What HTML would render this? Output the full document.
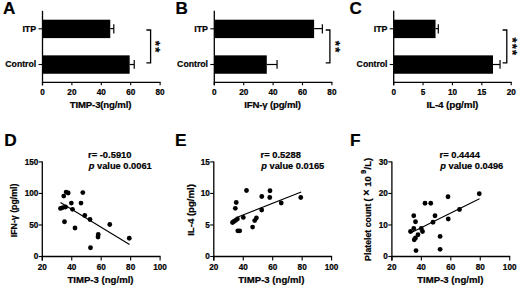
<!DOCTYPE html>
<html><head><meta charset="utf-8"><style>
html,body{margin:0;padding:0;background:#fff;}
svg{display:block;font-family:"Liberation Sans", sans-serif;}
text{stroke:#000;stroke-width:0.2px;}
</style></head><body>
<svg width="520" height="288" viewBox="0 0 520 288" font-family='"Liberation Sans", sans-serif' fill="#000">
<rect width="520" height="288" fill="#fff"/>
<text x="3" y="14.0" font-size="17.1" text-anchor="start" font-weight="bold" >A</text>
<rect x="42.5" y="19.7" width="67.767" height="18.4" fill="#000"/>
<rect x="42.5" y="55.35" width="87.17099999999999" height="18.4" fill="#000"/>
<line x1="110.267" y1="28.6" x2="113.795" y2="28.6" stroke="#000" stroke-width="1.2"/>
<line x1="113.795" y1="24.2" x2="113.795" y2="33.4" stroke="#000" stroke-width="1.2"/>
<line x1="129.671" y1="64.5" x2="134.228" y2="64.5" stroke="#000" stroke-width="1.2"/>
<line x1="134.228" y1="60.1" x2="134.228" y2="68.8" stroke="#000" stroke-width="1.2"/>
<line x1="42.5" y1="10.8" x2="42.5" y2="85.3" stroke="#000" stroke-width="1.3"/>
<line x1="42.0" y1="82.3" x2="160.6" y2="82.3" stroke="#000" stroke-width="1.3"/>
<line x1="42.5" y1="82.3" x2="42.5" y2="85.3" stroke="#000" stroke-width="1.1"/>
<text x="42.5" y="95.1" font-size="8.2" text-anchor="middle" font-weight="bold" >0</text>
<line x1="71.9" y1="82.3" x2="71.9" y2="85.3" stroke="#000" stroke-width="1.1"/>
<text x="71.9" y="95.1" font-size="8.2" text-anchor="middle" font-weight="bold" >20</text>
<line x1="101.3" y1="82.3" x2="101.3" y2="85.3" stroke="#000" stroke-width="1.1"/>
<text x="101.3" y="95.1" font-size="8.2" text-anchor="middle" font-weight="bold" >40</text>
<line x1="130.7" y1="82.3" x2="130.7" y2="85.3" stroke="#000" stroke-width="1.1"/>
<text x="130.7" y="95.1" font-size="8.2" text-anchor="middle" font-weight="bold" >60</text>
<line x1="160.1" y1="82.3" x2="160.1" y2="85.3" stroke="#000" stroke-width="1.1"/>
<text x="160.1" y="95.1" font-size="8.2" text-anchor="middle" font-weight="bold" >80</text>
<line x1="38.5" y1="28.8" x2="42.5" y2="28.8" stroke="#000" stroke-width="1.1"/>
<line x1="38.5" y1="64.5" x2="42.5" y2="64.5" stroke="#000" stroke-width="1.1"/>
<text x="36.2" y="31.6" font-size="8.9" text-anchor="end" font-weight="bold" >ITP</text>
<text x="36.2" y="66.9" font-size="8.7" text-anchor="end" font-weight="bold" >Control</text>
<text x="100.5" y="108.2" font-size="9.6" text-anchor="middle" font-weight="bold" letter-spacing="-0.15">TIMP-3(ng/ml)</text>
<path d="M146.4,30 H150.6 V62.8 H146.4" fill="none" stroke="#000" stroke-width="1.3"/>
<text x="0" y="0" font-size="13" font-weight="bold" text-anchor="middle" transform="translate(158.2,43.3) rotate(90)" dy="0.55em">*</text>
<text x="0" y="0" font-size="13" font-weight="bold" text-anchor="middle" transform="translate(158.2,49.9) rotate(90)" dy="0.55em">*</text>
<text x="175.5" y="14.0" font-size="17.1" text-anchor="start" font-weight="bold" >B</text>
<rect x="214.3" y="19.7" width="99.813" height="18.4" fill="#000"/>
<rect x="214.3" y="55.35" width="52.479000000000006" height="18.4" fill="#000"/>
<line x1="314.113" y1="28.6" x2="322.345" y2="28.6" stroke="#000" stroke-width="1.2"/>
<line x1="322.345" y1="24.2" x2="322.345" y2="33.4" stroke="#000" stroke-width="1.2"/>
<line x1="266.779" y1="64.5" x2="277.069" y2="64.5" stroke="#000" stroke-width="1.2"/>
<line x1="277.069" y1="60.1" x2="277.069" y2="68.8" stroke="#000" stroke-width="1.2"/>
<line x1="214.3" y1="10.8" x2="214.3" y2="85.3" stroke="#000" stroke-width="1.3"/>
<line x1="213.8" y1="82.3" x2="332.4" y2="82.3" stroke="#000" stroke-width="1.3"/>
<line x1="214.3" y1="82.3" x2="214.3" y2="85.3" stroke="#000" stroke-width="1.1"/>
<text x="214.3" y="95.1" font-size="8.2" text-anchor="middle" font-weight="bold" >0</text>
<line x1="243.70000000000002" y1="82.3" x2="243.70000000000002" y2="85.3" stroke="#000" stroke-width="1.1"/>
<text x="243.7" y="95.1" font-size="8.2" text-anchor="middle" font-weight="bold" >20</text>
<line x1="273.1" y1="82.3" x2="273.1" y2="85.3" stroke="#000" stroke-width="1.1"/>
<text x="273.1" y="95.1" font-size="8.2" text-anchor="middle" font-weight="bold" >40</text>
<line x1="302.5" y1="82.3" x2="302.5" y2="85.3" stroke="#000" stroke-width="1.1"/>
<text x="302.5" y="95.1" font-size="8.2" text-anchor="middle" font-weight="bold" >60</text>
<line x1="331.9" y1="82.3" x2="331.9" y2="85.3" stroke="#000" stroke-width="1.1"/>
<text x="331.9" y="95.1" font-size="8.2" text-anchor="middle" font-weight="bold" >80</text>
<line x1="210.3" y1="28.8" x2="214.3" y2="28.8" stroke="#000" stroke-width="1.1"/>
<line x1="210.3" y1="64.5" x2="214.3" y2="64.5" stroke="#000" stroke-width="1.1"/>
<text x="208" y="31.6" font-size="8.9" text-anchor="end" font-weight="bold" >ITP</text>
<text x="208" y="66.9" font-size="8.7" text-anchor="end" font-weight="bold" >Control</text>
<text x="272.5" y="108.2" font-size="9.6" text-anchor="middle" font-weight="bold" letter-spacing="-0.15">IFN-γ (pg/ml)</text>
<path d="M325.7,30 H329.9 V62.8 H325.7" fill="none" stroke="#000" stroke-width="1.3"/>
<text x="0" y="0" font-size="13" font-weight="bold" text-anchor="middle" transform="translate(337.7,43.3) rotate(90)" dy="0.55em">*</text>
<text x="0" y="0" font-size="13" font-weight="bold" text-anchor="middle" transform="translate(337.7,49.9) rotate(90)" dy="0.55em">*</text>
<text x="349.5" y="14.0" font-size="17.1" text-anchor="start" font-weight="bold" >C</text>
<rect x="393.7" y="19.7" width="41.83" height="18.4" fill="#000"/>
<rect x="393.7" y="55.35" width="99.2875" height="18.4" fill="#000"/>
<line x1="435.53" y1="28.6" x2="438.29125" y2="28.6" stroke="#000" stroke-width="1.2"/>
<line x1="438.29125" y1="24.2" x2="438.29125" y2="33.4" stroke="#000" stroke-width="1.2"/>
<line x1="492.98749999999995" y1="64.5" x2="500.03749999999997" y2="64.5" stroke="#000" stroke-width="1.2"/>
<line x1="500.03749999999997" y1="60.1" x2="500.03749999999997" y2="68.8" stroke="#000" stroke-width="1.2"/>
<line x1="393.7" y1="10.8" x2="393.7" y2="85.3" stroke="#000" stroke-width="1.3"/>
<line x1="393.2" y1="82.3" x2="511.7" y2="82.3" stroke="#000" stroke-width="1.3"/>
<line x1="393.7" y1="82.3" x2="393.7" y2="85.3" stroke="#000" stroke-width="1.1"/>
<text x="393.7" y="95.1" font-size="8.2" text-anchor="middle" font-weight="bold" >0</text>
<line x1="423.075" y1="82.3" x2="423.075" y2="85.3" stroke="#000" stroke-width="1.1"/>
<text x="423.07" y="95.1" font-size="8.2" text-anchor="middle" font-weight="bold" >5</text>
<line x1="452.45" y1="82.3" x2="452.45" y2="85.3" stroke="#000" stroke-width="1.1"/>
<text x="452.45" y="95.1" font-size="8.2" text-anchor="middle" font-weight="bold" >10</text>
<line x1="481.825" y1="82.3" x2="481.825" y2="85.3" stroke="#000" stroke-width="1.1"/>
<text x="481.82" y="95.1" font-size="8.2" text-anchor="middle" font-weight="bold" >15</text>
<line x1="511.2" y1="82.3" x2="511.2" y2="85.3" stroke="#000" stroke-width="1.1"/>
<text x="511.2" y="95.1" font-size="8.2" text-anchor="middle" font-weight="bold" >20</text>
<line x1="389.7" y1="28.8" x2="393.7" y2="28.8" stroke="#000" stroke-width="1.1"/>
<line x1="389.7" y1="64.5" x2="393.7" y2="64.5" stroke="#000" stroke-width="1.1"/>
<text x="387.5" y="31.6" font-size="8.9" text-anchor="end" font-weight="bold" >ITP</text>
<text x="387.5" y="66.9" font-size="8.7" text-anchor="end" font-weight="bold" >Control</text>
<text x="452.3" y="108.2" font-size="9.95" text-anchor="middle" font-weight="bold" letter-spacing="-0.15">IL-4 (pg/ml)</text>
<path d="M502.6,30 H506.8 V62.8 H502.6" fill="none" stroke="#000" stroke-width="1.3"/>
<text x="0" y="0" font-size="13" font-weight="bold" text-anchor="middle" transform="translate(514.9,40.1) rotate(90)" dy="0.55em">*</text>
<text x="0" y="0" font-size="13" font-weight="bold" text-anchor="middle" transform="translate(514.9,46.4) rotate(90)" dy="0.55em">*</text>
<text x="0" y="0" font-size="13" font-weight="bold" text-anchor="middle" transform="translate(514.9,52.6) rotate(90)" dy="0.55em">*</text>
<text x="4.3" y="145.7" font-size="17.3" text-anchor="start" font-weight="bold" >D</text>
<line x1="42.3" y1="161.4" x2="42.3" y2="260.5" stroke="#000" stroke-width="1.3"/>
<line x1="41.8" y1="256.5" x2="160.6" y2="256.5" stroke="#000" stroke-width="1.3"/>
<line x1="42.3" y1="256.5" x2="42.3" y2="260.5" stroke="#000" stroke-width="1.1"/>
<text x="42.3" y="269.7" font-size="8.2" text-anchor="middle" font-weight="bold" >20</text>
<line x1="71.75" y1="256.5" x2="71.75" y2="260.5" stroke="#000" stroke-width="1.1"/>
<text x="71.75" y="269.7" font-size="8.2" text-anchor="middle" font-weight="bold" >40</text>
<line x1="101.19999999999999" y1="256.5" x2="101.19999999999999" y2="260.5" stroke="#000" stroke-width="1.1"/>
<text x="101.2" y="269.7" font-size="8.2" text-anchor="middle" font-weight="bold" >60</text>
<line x1="130.64999999999998" y1="256.5" x2="130.64999999999998" y2="260.5" stroke="#000" stroke-width="1.1"/>
<text x="130.65" y="269.7" font-size="8.2" text-anchor="middle" font-weight="bold" >80</text>
<line x1="160.1" y1="256.5" x2="160.1" y2="260.5" stroke="#000" stroke-width="1.1"/>
<text x="160.1" y="269.7" font-size="8.2" text-anchor="middle" font-weight="bold" >100</text>
<line x1="38.699999999999996" y1="256.5" x2="42.3" y2="256.5" stroke="#000" stroke-width="1.1"/>
<text x="38.3" y="259.35" font-size="8.2" text-anchor="end" font-weight="bold" >0</text>
<line x1="38.699999999999996" y1="224.96666666666667" x2="42.3" y2="224.96666666666667" stroke="#000" stroke-width="1.1"/>
<text x="38.3" y="227.82" font-size="8.2" text-anchor="end" font-weight="bold" >50</text>
<line x1="38.699999999999996" y1="193.43333333333334" x2="42.3" y2="193.43333333333334" stroke="#000" stroke-width="1.1"/>
<text x="38.3" y="196.28" font-size="8.2" text-anchor="end" font-weight="bold" >100</text>
<line x1="38.699999999999996" y1="161.9" x2="42.3" y2="161.9" stroke="#000" stroke-width="1.1"/>
<text x="38.3" y="164.75" font-size="8.2" text-anchor="end" font-weight="bold" >150</text>
<text x="100.5" y="282.9" font-size="9.6" text-anchor="middle" font-weight="bold" >TIMP-3 (ng/ml)</text>
<text x="0" y="0" font-size="8.8" font-weight="bold" text-anchor="middle" transform="translate(16.9,210.4) rotate(-90)">IFN-γ (pg/ml)</text>
<circle cx="60.5" cy="208.4" r="2.4" fill="#000"/>
<circle cx="63.75" cy="196.1" r="2.4" fill="#000"/>
<circle cx="66.1" cy="192.1" r="2.4" fill="#000"/>
<circle cx="68.2" cy="193" r="2.4" fill="#000"/>
<circle cx="62.8" cy="207.6" r="2.4" fill="#000"/>
<circle cx="65.5" cy="207" r="2.4" fill="#000"/>
<circle cx="71.35" cy="203.1" r="2.4" fill="#000"/>
<circle cx="72.5" cy="209.3" r="2.4" fill="#000"/>
<circle cx="82.8" cy="192.6" r="2.4" fill="#000"/>
<circle cx="81" cy="203.1" r="2.4" fill="#000"/>
<circle cx="84.75" cy="215.5" r="2.4" fill="#000"/>
<circle cx="90" cy="219.5" r="2.4" fill="#000"/>
<circle cx="64.5" cy="221.75" r="2.4" fill="#000"/>
<circle cx="75" cy="228" r="2.4" fill="#000"/>
<circle cx="98.25" cy="234.5" r="2.4" fill="#000"/>
<circle cx="98" cy="237" r="2.4" fill="#000"/>
<circle cx="109.75" cy="224.5" r="2.4" fill="#000"/>
<circle cx="90.5" cy="247.75" r="2.4" fill="#000"/>
<circle cx="129.25" cy="238.25" r="2.4" fill="#000"/>
<line x1="60.5" y1="202.5" x2="129.5" y2="244.5" stroke="#000" stroke-width="1.1"/>
<text x="88" y="158.3" font-size="9.4" text-anchor="start" font-weight="bold" >r= -0.5910</text>
<text x="88.7" y="168.8" font-size="9.3" text-anchor="start" font-weight="bold" ><tspan font-style="italic">p</tspan> value 0.0061</text>
<text x="175" y="145.7" font-size="17.3" text-anchor="start" font-weight="bold" >E</text>
<line x1="213.8" y1="161.4" x2="213.8" y2="260.5" stroke="#000" stroke-width="1.3"/>
<line x1="213.3" y1="256.5" x2="332.1" y2="256.5" stroke="#000" stroke-width="1.3"/>
<line x1="213.8" y1="256.5" x2="213.8" y2="260.5" stroke="#000" stroke-width="1.1"/>
<text x="213.8" y="269.7" font-size="8.2" text-anchor="middle" font-weight="bold" >20</text>
<line x1="243.25" y1="256.5" x2="243.25" y2="260.5" stroke="#000" stroke-width="1.1"/>
<text x="243.25" y="269.7" font-size="8.2" text-anchor="middle" font-weight="bold" >40</text>
<line x1="272.7" y1="256.5" x2="272.7" y2="260.5" stroke="#000" stroke-width="1.1"/>
<text x="272.7" y="269.7" font-size="8.2" text-anchor="middle" font-weight="bold" >60</text>
<line x1="302.15" y1="256.5" x2="302.15" y2="260.5" stroke="#000" stroke-width="1.1"/>
<text x="302.15" y="269.7" font-size="8.2" text-anchor="middle" font-weight="bold" >80</text>
<line x1="331.6" y1="256.5" x2="331.6" y2="260.5" stroke="#000" stroke-width="1.1"/>
<text x="331.6" y="269.7" font-size="8.2" text-anchor="middle" font-weight="bold" >100</text>
<line x1="210.20000000000002" y1="256.5" x2="213.8" y2="256.5" stroke="#000" stroke-width="1.1"/>
<text x="209.8" y="259.35" font-size="8.2" text-anchor="end" font-weight="bold" >0</text>
<line x1="210.20000000000002" y1="224.96666666666667" x2="213.8" y2="224.96666666666667" stroke="#000" stroke-width="1.1"/>
<text x="209.8" y="227.82" font-size="8.2" text-anchor="end" font-weight="bold" >5</text>
<line x1="210.20000000000002" y1="193.43333333333334" x2="213.8" y2="193.43333333333334" stroke="#000" stroke-width="1.1"/>
<text x="209.8" y="196.28" font-size="8.2" text-anchor="end" font-weight="bold" >10</text>
<line x1="210.20000000000002" y1="161.9" x2="213.8" y2="161.9" stroke="#000" stroke-width="1.1"/>
<text x="209.8" y="164.75" font-size="8.2" text-anchor="end" font-weight="bold" >15</text>
<text x="271.3" y="282.9" font-size="9.6" text-anchor="middle" font-weight="bold" >TIMP-3 (ng/ml)</text>
<text x="0" y="0" font-size="9.6" font-weight="bold" text-anchor="middle" transform="translate(194.1,210.0) rotate(-90)">IL-4 (pg/ml)</text>
<circle cx="246.5" cy="190.5" r="2.4" fill="#000"/>
<circle cx="236.25" cy="202.5" r="2.4" fill="#000"/>
<circle cx="235.3" cy="208.3" r="2.4" fill="#000"/>
<circle cx="270" cy="190.75" r="2.4" fill="#000"/>
<circle cx="261.75" cy="196.5" r="2.4" fill="#000"/>
<circle cx="269.75" cy="197.5" r="2.4" fill="#000"/>
<circle cx="300.75" cy="197.5" r="2.4" fill="#000"/>
<circle cx="281.25" cy="203" r="2.4" fill="#000"/>
<circle cx="261.7" cy="210" r="2.4" fill="#000"/>
<circle cx="243.3" cy="217.4" r="2.4" fill="#000"/>
<circle cx="232.5" cy="222.5" r="2.4" fill="#000"/>
<circle cx="233.9" cy="221.5" r="2.4" fill="#000"/>
<circle cx="235.5" cy="220.4" r="2.4" fill="#000"/>
<circle cx="237.4" cy="219" r="2.4" fill="#000"/>
<circle cx="254.7" cy="220.6" r="2.4" fill="#000"/>
<circle cx="256.4" cy="218" r="2.4" fill="#000"/>
<circle cx="252.6" cy="227.1" r="2.4" fill="#000"/>
<circle cx="237.8" cy="230.8" r="2.4" fill="#000"/>
<circle cx="239.7" cy="230.8" r="2.4" fill="#000"/>
<line x1="237.3" y1="217.3" x2="301.2" y2="191.9" stroke="#000" stroke-width="1.1"/>
<text x="260.5" y="158.3" font-size="9.4" text-anchor="start" font-weight="bold" >r= 0.5288</text>
<text x="261.2" y="168.8" font-size="9.3" text-anchor="start" font-weight="bold" ><tspan font-style="italic">p</tspan> value 0.0165</text>
<text x="350" y="145.7" font-size="17.3" text-anchor="start" font-weight="bold" >F</text>
<line x1="391.9" y1="161.4" x2="391.9" y2="260.5" stroke="#000" stroke-width="1.3"/>
<line x1="391.4" y1="256.5" x2="510.2" y2="256.5" stroke="#000" stroke-width="1.3"/>
<line x1="391.9" y1="256.5" x2="391.9" y2="260.5" stroke="#000" stroke-width="1.1"/>
<text x="391.9" y="269.7" font-size="8.2" text-anchor="middle" font-weight="bold" >20</text>
<line x1="421.34999999999997" y1="256.5" x2="421.34999999999997" y2="260.5" stroke="#000" stroke-width="1.1"/>
<text x="421.35" y="269.7" font-size="8.2" text-anchor="middle" font-weight="bold" >40</text>
<line x1="450.79999999999995" y1="256.5" x2="450.79999999999995" y2="260.5" stroke="#000" stroke-width="1.1"/>
<text x="450.8" y="269.7" font-size="8.2" text-anchor="middle" font-weight="bold" >60</text>
<line x1="480.25" y1="256.5" x2="480.25" y2="260.5" stroke="#000" stroke-width="1.1"/>
<text x="480.25" y="269.7" font-size="8.2" text-anchor="middle" font-weight="bold" >80</text>
<line x1="509.7" y1="256.5" x2="509.7" y2="260.5" stroke="#000" stroke-width="1.1"/>
<text x="509.7" y="269.7" font-size="8.2" text-anchor="middle" font-weight="bold" >100</text>
<line x1="388.29999999999995" y1="256.5" x2="391.9" y2="256.5" stroke="#000" stroke-width="1.1"/>
<text x="387.9" y="259.35" font-size="8.2" text-anchor="end" font-weight="bold" >0</text>
<line x1="388.29999999999995" y1="224.96666666666667" x2="391.9" y2="224.96666666666667" stroke="#000" stroke-width="1.1"/>
<text x="387.9" y="227.82" font-size="8.2" text-anchor="end" font-weight="bold" >10</text>
<line x1="388.29999999999995" y1="193.43333333333334" x2="391.9" y2="193.43333333333334" stroke="#000" stroke-width="1.1"/>
<text x="387.9" y="196.28" font-size="8.2" text-anchor="end" font-weight="bold" >20</text>
<line x1="388.29999999999995" y1="161.9" x2="391.9" y2="161.9" stroke="#000" stroke-width="1.1"/>
<text x="387.9" y="164.75" font-size="8.2" text-anchor="end" font-weight="bold" >30</text>
<text x="450.3" y="282.9" font-size="9.6" text-anchor="middle" font-weight="bold" >TIMP-3 (ng/ml)</text>
<circle cx="479.25" cy="193.75" r="2.4" fill="#000"/>
<circle cx="448" cy="196.75" r="2.4" fill="#000"/>
<circle cx="425" cy="203.25" r="2.4" fill="#000"/>
<circle cx="430.75" cy="203.25" r="2.4" fill="#000"/>
<circle cx="413.75" cy="215.75" r="2.4" fill="#000"/>
<circle cx="435" cy="215.75" r="2.4" fill="#000"/>
<circle cx="459.5" cy="209.5" r="2.4" fill="#000"/>
<circle cx="448.25" cy="219" r="2.4" fill="#000"/>
<circle cx="433" cy="222.25" r="2.4" fill="#000"/>
<circle cx="415.5" cy="221.75" r="2.4" fill="#000"/>
<circle cx="410.5" cy="231.5" r="2.4" fill="#000"/>
<circle cx="413.75" cy="228.5" r="2.4" fill="#000"/>
<circle cx="421.25" cy="228.5" r="2.4" fill="#000"/>
<circle cx="422.5" cy="231.5" r="2.4" fill="#000"/>
<circle cx="418" cy="234.75" r="2.4" fill="#000"/>
<circle cx="415.5" cy="238" r="2.4" fill="#000"/>
<circle cx="414.25" cy="239.75" r="2.4" fill="#000"/>
<circle cx="440.1" cy="236.4" r="2.4" fill="#000"/>
<circle cx="440.1" cy="249.3" r="2.4" fill="#000"/>
<circle cx="416" cy="250.6" r="2.4" fill="#000"/>
<line x1="411.0" y1="232.8" x2="479.5" y2="198.7" stroke="#000" stroke-width="1.1"/>
<text x="439.5" y="158.3" font-size="9.4" text-anchor="start" font-weight="bold" >r= 0.4444</text>
<text x="440.2" y="168.8" font-size="9.3" text-anchor="start" font-weight="bold" ><tspan font-style="italic">p</tspan> value 0.0496</text>
<text x="0" y="0" font-size="8.75" font-weight="bold" text-anchor="middle" transform="translate(370.6,232.2) rotate(-90)">Platelet count</text>
<text x="0" y="0" font-size="9.5" font-weight="bold" text-anchor="middle" transform="translate(370.6,199.8) rotate(-90)">(</text>
<text x="0" y="0" font-size="10.8" font-weight="bold" text-anchor="middle" transform="translate(370.4,192.6) rotate(-90)">×</text>
<text x="0" y="0" font-size="9.3" font-weight="bold" text-anchor="middle" transform="translate(370.6,181.6) rotate(-90)">10</text>
<text x="0" y="0" font-size="7.5" font-weight="bold" text-anchor="middle" transform="translate(366.0,171.9) rotate(-90)">9</text>
<text x="0" y="0" font-size="9.5" font-weight="bold" text-anchor="middle" transform="translate(370.6,163.6) rotate(-90)">/L)</text>
</svg>
</body></html>
